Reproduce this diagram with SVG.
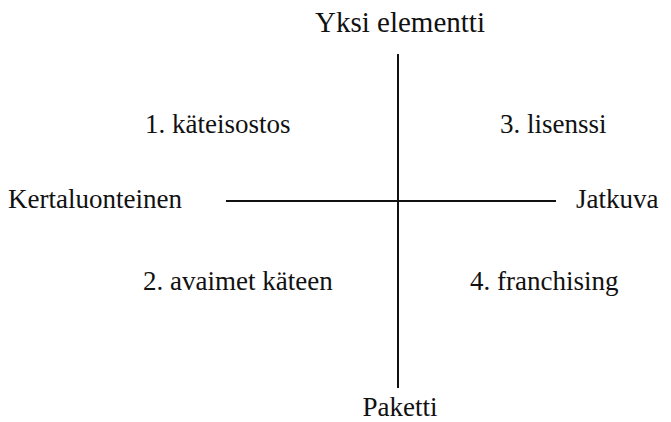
<svg xmlns="http://www.w3.org/2000/svg" width="671" height="422" viewBox="0 0 671 422">
<style>
text{font-family:'Liberation Serif','Times New Roman','DejaVu Serif',serif;font-size:27px;fill:#111}
.title{font-size:29px}
.ax{stroke:#111;stroke-width:2;fill:none}
</style>
<rect width="671" height="422" fill="#fff"/>
<g id="connectors">
<line class="ax" x1="398" y1="54" x2="398" y2="388"/>
<line class="ax" x1="226" y1="201" x2="556" y2="201"/>
</g>
<g id="top"><text class="title" x="400" y="32" text-anchor="middle">Yksi elementti</text></g>
<g id="bottom"><text x="400" y="416" text-anchor="middle">Paketti</text></g>
<g id="left"><text x="8" y="208">Kertaluonteinen</text></g>
<g id="right"><text x="576" y="208">Jatkuva</text></g>
<g id="q1"><text x="145" y="133">1. käteisostos</text></g>
<g id="q3"><text x="500" y="133">3. lisenssi</text></g>
<g id="q2"><text x="143" y="290">2. avaimet käteen</text></g>
<g id="q4"><text x="470" y="290">4. franchising</text></g>
</svg>
